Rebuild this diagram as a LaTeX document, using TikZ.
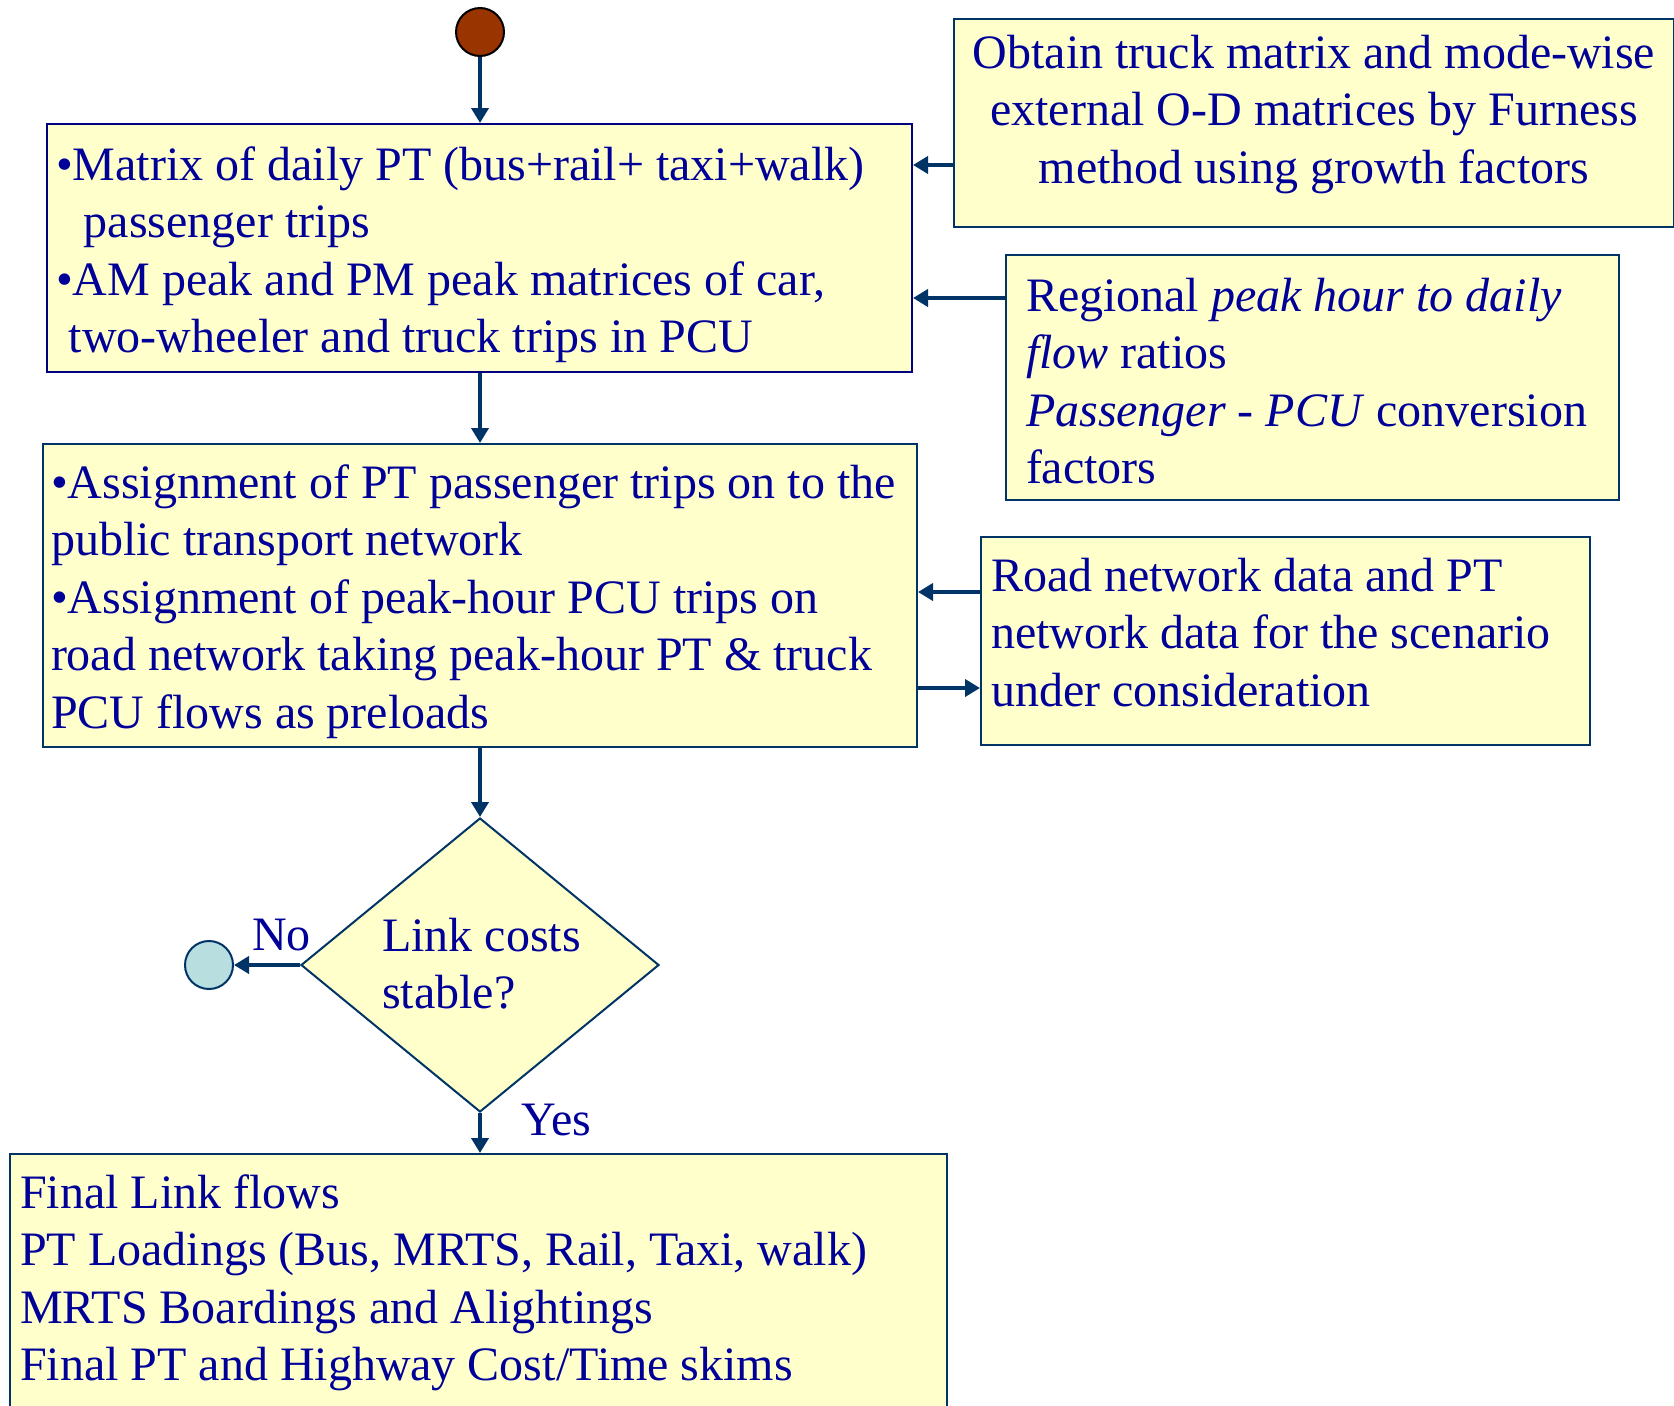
\documentclass[tikz,border=0pt]{standalone}
\usepackage{fontspec}
\setmainfont{Liberation Serif}
\usetikzlibrary{arrows.meta,shapes.geometric}
\definecolor{inkblue}{RGB}{0,0,153}
\definecolor{panelfill}{RGB}{255,255,204}
\definecolor{linkblue}{RGB}{0,51,102}
\definecolor{edgenavy}{RGB}{0,0,128}
\definecolor{startred}{RGB}{153,51,0}
\definecolor{stopcyan}{RGB}{184,222,224}
% fixed-size text block: height, width, content
\newcommand{\panelbody}[3]{\parbox[t][#1][t]{#2}{#3}}
\begin{document}
\begin{tikzpicture}[x=1pt,y=-1pt,
  bigfont/.style={font=\fontsize{48}{57.5}\selectfont},
  panel/.style={draw=linkblue, fill=panelfill, line width=2pt, inner ysep=0pt,
    anchor=north west, text=inkblue, bigfont},
  label/.style={text=inkblue, inner sep=0pt, anchor=base west, bigfont},
  arr/.style={draw=linkblue, line width=4.5pt, -{Triangle[length=15pt,width=17pt]}},
  dot/.style={circle, minimum size=48pt, inner sep=0pt, line width=2pt}]
\useasboundingbox (0,0) rectangle (1674,1406);
\path[clip] (0,0) rectangle (1674,1406);

% start and stop markers
\node[dot, draw=black, fill=startred] (start) at (480,32) {};
\node[dot, draw=linkblue, fill=stopcyan] (stop) at (209,965) {};

% input matrices
\node[panel, draw=edgenavy, inner xsep=9pt] (b1) at (46,123)
  {\panelbody{248pt}{847pt}{\raggedright\rule{0pt}{56pt}•Matrix of daily PT (bus+rail+ taxi+walk)\\
   \hspace*{28pt}passenger trips\\
   •AM peak and PM peak matrices of car,\\
   \hspace*{13pt}two-wheeler and truck trips in PCU}};

% external matrices
\node[panel, inner xsep=10pt] (obt) at (953,18)
  {\panelbody{208pt}{700pt}{\centering\rule{0pt}{49pt}Obtain truck matrix and mode-wise\\
   external O-D matrices by Furness\\
   method using growth factors}};

% conversion ratios
\node[panel, inner xsep=20pt] (reg) at (1005,254)
  {\panelbody{245pt}{573pt}{\raggedright\rule{0pt}{56pt}Regional \textit{peak hour to daily}\\
   \textit{flow} ratios\\
   \textit{Passenger - PCU} conversion\\
   factors}};

% assignment step
\node[panel, inner xsep=8pt] (b2) at (42,443)
  {\panelbody{303pt}{858pt}{\raggedright\rule{0pt}{54pt}•Assignment of PT passenger trips on to the\\
   public transport network\\
   •Assignment of peak-hour PCU trips on\\
   road network taking peak-hour PT \& truck\\
   PCU flows as preloads}};

% network data
\node[panel, inner xsep=10pt] (road) at (980,536)
  {\panelbody{208pt}{589pt}{\raggedright\rule{0pt}{54pt}Road network data and PT\\
   network data for the scenario\\
   under consideration}};

% convergence test
\node[diamond, draw=linkblue, fill=panelfill, line width=2pt,
  minimum width=358pt, minimum height=294pt, inner sep=0pt] (dia) at (480,965) {};
\node[label] (diatext) at (382,951) {\parbox[t]{230pt}{Link costs\\stable?}};

% outputs
\node[panel, inner xsep=10pt] (fin) at (9,1153)
  {\panelbody{300pt}{917pt}{\raggedright\rule{0pt}{54pt}Final Link flows\\
   PT Loadings (Bus, MRTS, Rail, Taxi, walk)\\
   MRTS Boardings and Alightings\\
   Final PT and Highway Cost/Time skims}};

% branch labels
\node[label] (nolabel) at (252,950) {No};
\node[label] (yeslabel) at (521,1135) {Yes};

% connectors
\draw[arr] (start.south) -- (start.south |- b1.north);
\draw[arr] (b1.south -| start) -- (b2.north -| start);
\draw[arr] (b2.south -| dia.north) -- (dia.north);
\draw[arr] (dia.south) -- (dia.south |- fin.north);
\draw[arr] (dia.west) -- (dia.west -| stop.east);
\draw[arr] (obt.west |- 0,165) -- (b1.east |- 0,165);
\draw[arr] (reg.west |- 0,298) -- (b1.east |- 0,298);
\draw[arr] (road.west |- 0,592) -- (b2.east |- 0,592);
\draw[arr] (b2.east |- 0,688) -- (road.west |- 0,688);
\end{tikzpicture}
\end{document}
